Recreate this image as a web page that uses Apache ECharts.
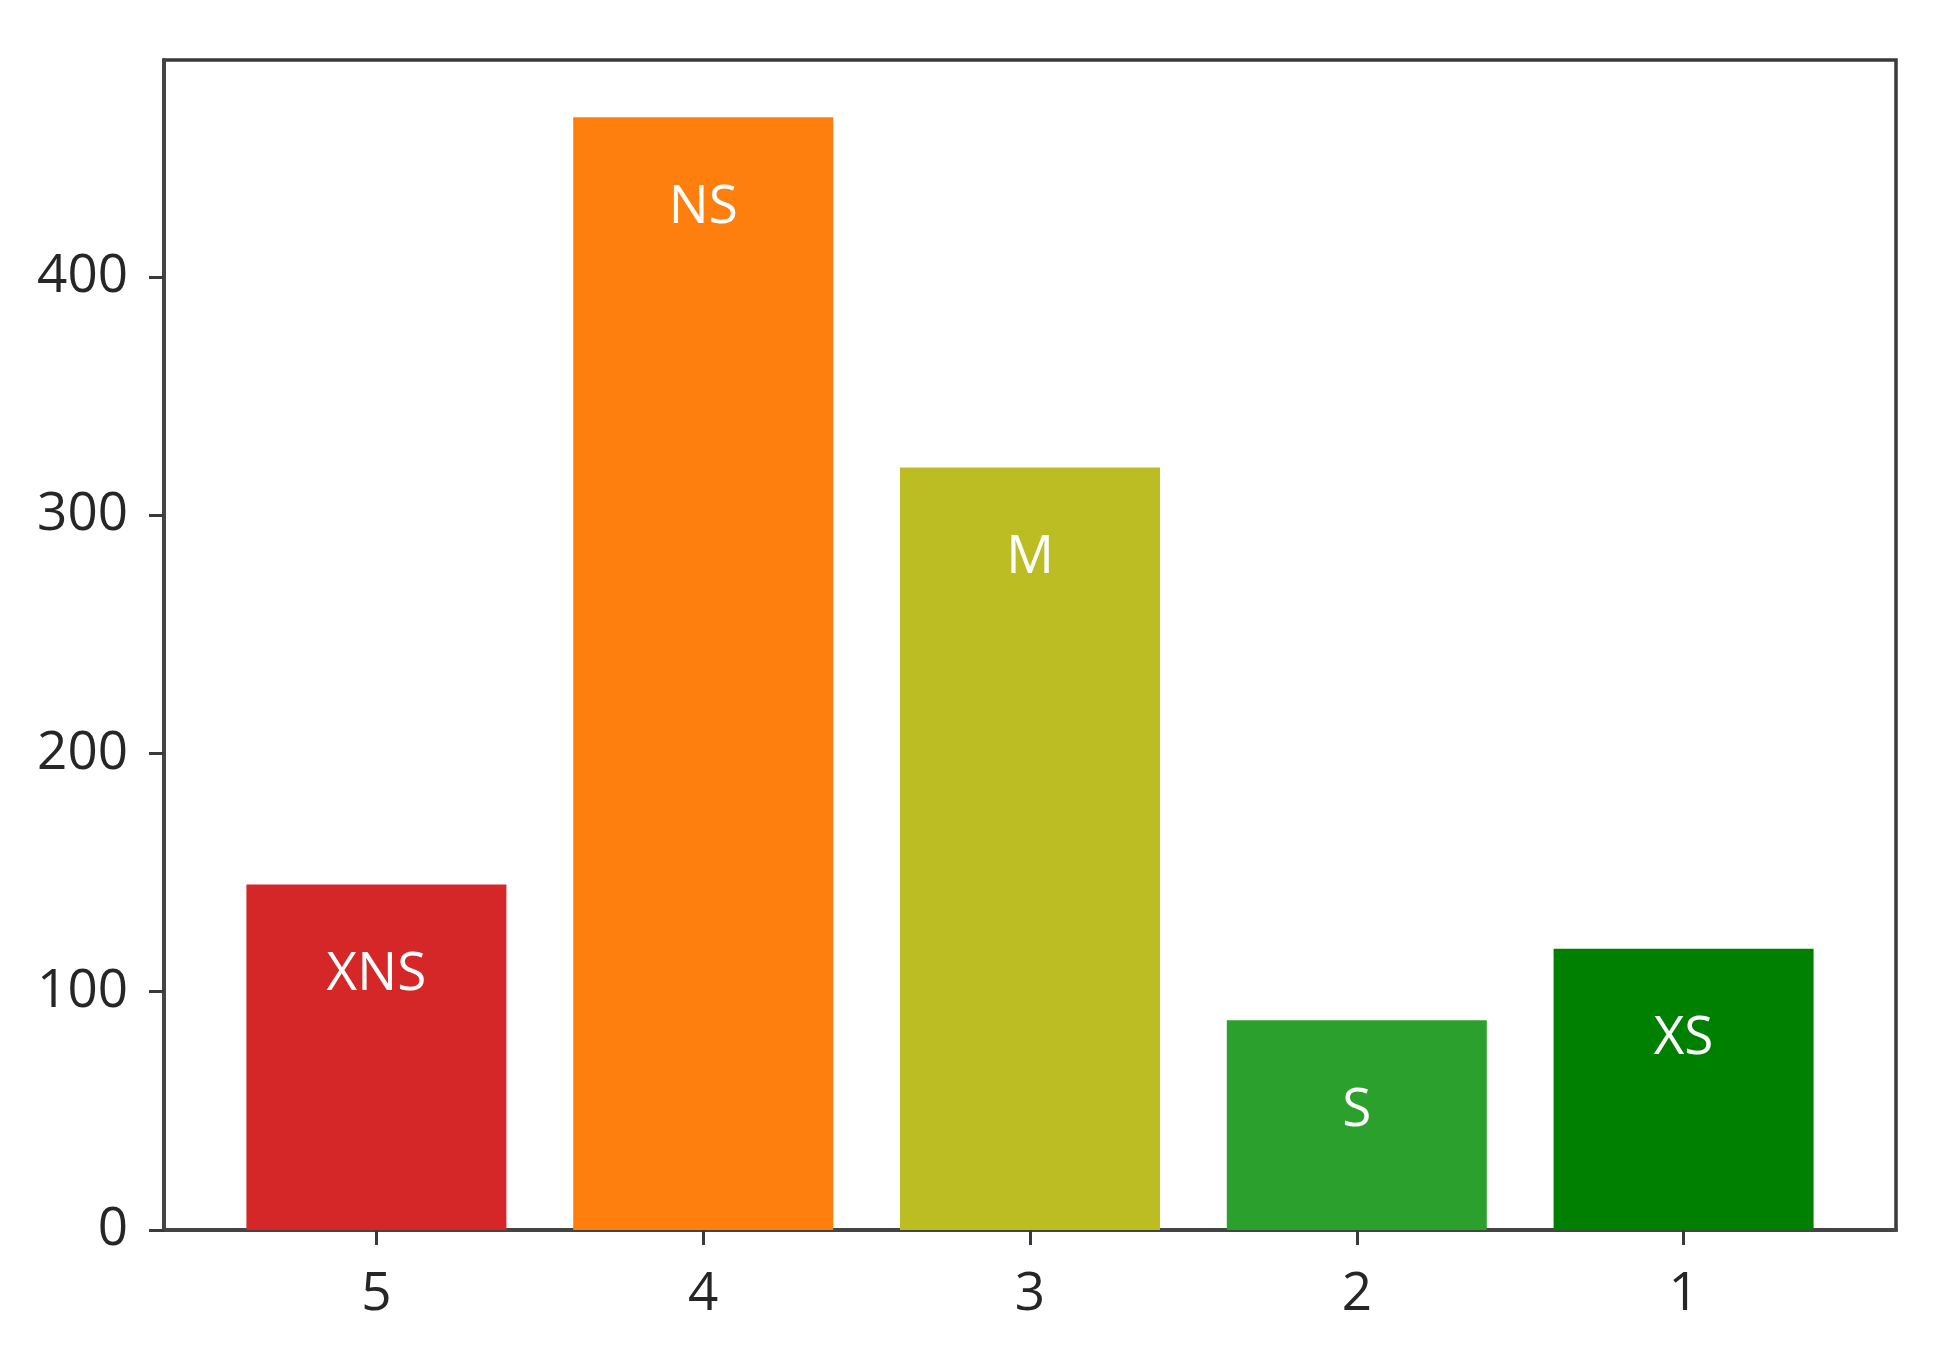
<!DOCTYPE html>
<html>
<head>
<meta charset="utf-8">
<script src="https://cdn.jsdelivr.net/npm/echarts@6/dist/echarts.min.js"></script>
<style>
html,body{margin:0;padding:0;background:#fff;}
#chart{width:1939px;height:1357px;}
</style>
</head>
<body>
<div id="chart"></div>
<script>
const categories = ['5', '4', '3', '2', '1'];
const barLabels = ['XNS', 'NS', 'M', 'S', 'XS'];
const values = [145, 467, 320, 88, 118];
const barColors = ['#d62728', '#ff7f0e', '#bcbd22', '#2ca02c', '#008000'];
const yTicks = [0, 100, 200, 300, 400];

const chart = echarts.init(document.getElementById('chart'), null, {renderer: 'canvas'});
const FONT = 'Open Sans';
const AX = '#3a3a3a';

chart.setOption({
  animation: false,
  backgroundColor: '#ffffff',
  grid: {
    left: 164, right: 43, top: 60, bottom: 127,
    show: true, borderColor: AX, borderWidth: 3.5, backgroundColor: 'transparent'
  },
  xAxis: {
    type: 'value',
    min: -0.65, max: 4.65,
    splitLine: {show: false},
    axisLine: {show: true, onZero: false, lineStyle: {color: '#444', width: 4}},
    axisTick: {show: true, customValues: [0, 1, 2, 3, 4], length: 15, lineStyle: {color: AX, width: 3}},
    axisLabel: {
      customValues: [0, 1, 2, 3, 4],
      formatter: v => categories[Math.round(v)],
      fontFamily: FONT, fontSize: 53, color: '#262626', margin: 38
    }
  },
  yAxis: {
    type: 'value',
    min: 0, max: 491,
    splitLine: {show: false},
    axisLine: {show: true, onZero: false, lineStyle: {color: '#444', width: 4}},
    axisTick: {show: true, customValues: yTicks, length: 15, lineStyle: {color: AX, width: 3}},
    axisLabel: {
      customValues: yTicks,
      fontFamily: FONT, fontSize: 53, color: '#262626', margin: 36
    }
  },
  series: [{
    type: 'bar',
    barWidth: 260,
    data: values.map((v, i) => ({
      value: [i, v],
      itemStyle: {color: barColors[i]},
      label: {formatter: barLabels[i]}
    })),
    label: {
      show: true, position: 'insideTop', distance: 64,
      color: '#ffffff', fontFamily: FONT, fontSize: 53
    }
  }]
});
</script>
</body>
</html>
